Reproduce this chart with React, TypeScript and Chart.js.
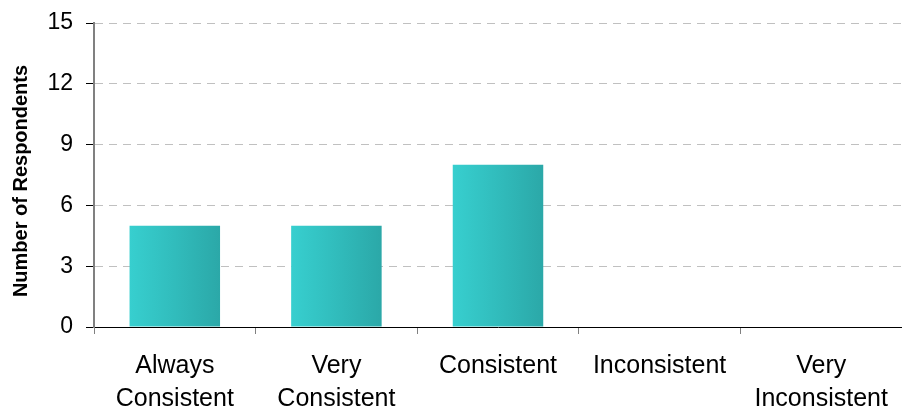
import { useEffect, useRef } from "react";
import { Chart, registerables } from "chart.js";

Chart.register(...registerables);

// Survey answers along the x axis (multi-line labels as arrays)
const categories: (string | string[])[] = [
  ["Always", "Consistent"],
  ["Very", "Consistent"],
  "Consistent",
  "Inconsistent",
  ["Very", "Inconsistent"],
];

// Number of respondents for each answer
const respondents = [5, 5, 8, 0, 0];

// Value axis range
const yMin = 0;
const yMax = 15;
const yStep = 3;

const yTitle = "Number of Respondents";

const FONT = "'Liberation Sans', Arial, sans-serif";
const BAR_PCT = 0.56;

// Draws the rotated value-axis title beside the tick labels
const yTitlePlugin = {
  id: "yTitle",
  afterDraw(chart: any) {
    const { ctx, chartArea } = chart;
    ctx.save();
    ctx.translate(21, (chartArea.top + chartArea.bottom) / 2 + 6);
    ctx.rotate(-Math.PI / 2);
    ctx.font = `bold 20px ${FONT}`;
    ctx.fillStyle = "#000000";
    ctx.textAlign = "center";
    ctx.textBaseline = "middle";
    ctx.fillText(yTitle, 0, 0);
    ctx.restore();
  },
};

export default function App() {
  const canvasRef = useRef<HTMLCanvasElement | null>(null);

  useEffect(() => {
    const canvas = canvasRef.current;
    if (!canvas) return;

    const barFill = (ctx: any) => {
      const chart = ctx.chart;
      const xs = chart.scales?.x;
      if (!xs || ctx.type !== "data" || !xs.width) return "#33c4c4";
      const center = xs.getPixelForValue(ctx.dataIndex);
      const half = ((xs.width / categories.length) * BAR_PCT) / 2;
      const g = chart.ctx.createLinearGradient(center - half, 0, center + half, 0);
      g.addColorStop(0, "#37cfcf");
      g.addColorStop(0.5, "#31bcbc");
      g.addColorStop(1, "#2ba8a8");
      return g;
    };

    const chart = new Chart(canvas, {
      type: "bar",
      data: {
        labels: categories,
        datasets: [
          {
            data: respondents,
            backgroundColor: barFill,
            borderWidth: 0,
            barPercentage: BAR_PCT,
            categoryPercentage: 1,
          },
        ],
      },
      plugins: [yTitlePlugin],
      options: {
        responsive: false,
        animation: false,
        devicePixelRatio: 1,
        layout: { padding: { top: 23, right: 0, bottom: 0, left: 0 } },
        plugins: {
          legend: { display: false },
          tooltip: { enabled: false },
        },
        scales: {
          x: {
            offset: true,
            grid: {
              offset: true,
              drawOnChartArea: false,
              drawTicks: true,
              tickLength: 7,
              tickColor: "#808080",
              tickWidth: 1,
            },
            border: { display: true, color: "#000000", width: 1 },
            ticks: {
              color: "#000000",
              font: { family: FONT, size: 25, lineHeight: 1.34 },
              padding: 15,
              maxRotation: 0,
              autoSkip: false,
            },
            afterFit: (scale: any) => {
              scale.height = 83;
              scale.paddingLeft = 0;
              scale.paddingRight = 0;
            },
          },
          y: {
            min: yMin,
            max: yMax,
            ticks: {
              stepSize: yStep,
              color: "#000000",
              font: { family: FONT, size: 23 },
              padding: 13,
            },
            grid: {
              color: (ctx: any) =>
                ctx.tick && ctx.tick.value === 0 ? "rgba(0,0,0,0)" : "#c0c0c0",
              lineWidth: 1,
              drawTicks: true,
              tickLength: 8,
              tickColor: "#000000",
              tickWidth: 1,
              tickBorderDash: [],
            },
            border: { display: true, color: "#808080", width: 2, dash: [8, 6] },
            title: { display: false },
            afterFit: (scale: any) => {
              scale.width = 94;
              scale.paddingTop = 0;
              scale.paddingBottom = 0;
            },
          },
        },
      },
    });

    return () => chart.destroy();
  }, []);

  return (
    <div style={{ position: "absolute", left: 0, top: 0, width: 902, height: 410, background: "#ffffff" }}>
      <canvas ref={canvasRef} width={902} height={410} style={{ display: "block" }} />
    </div>
  );
}
